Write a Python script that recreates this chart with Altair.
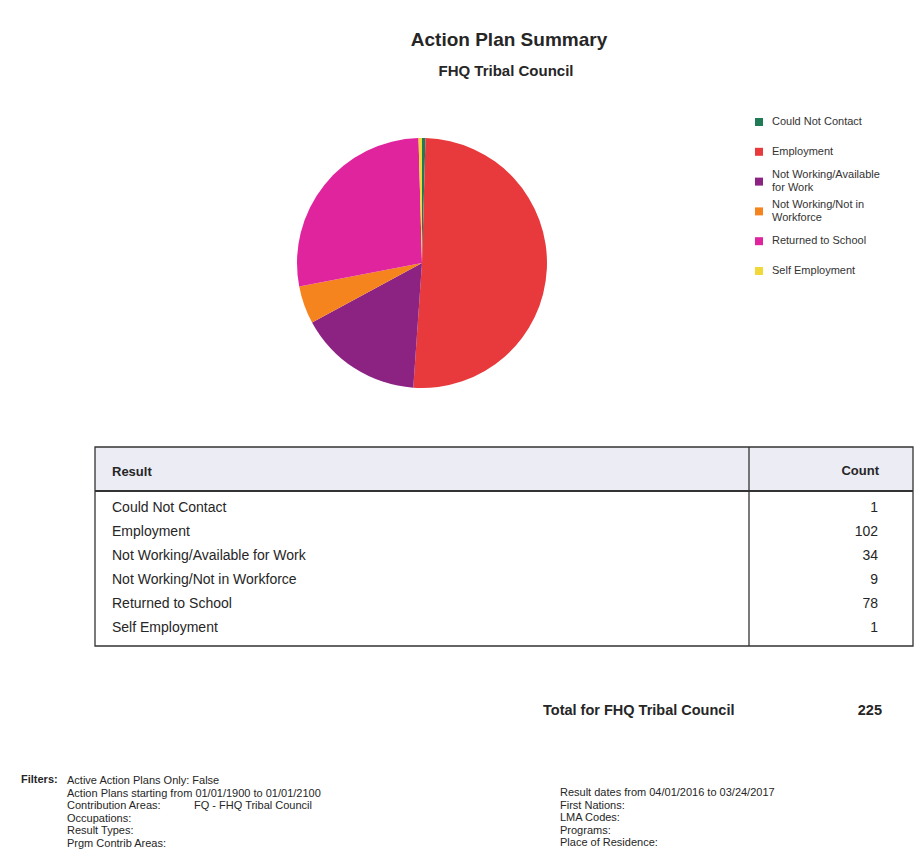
import altair as alt
import pandas as pd

# ---------------- data ----------------
results = [
    "Could Not Contact",
    "Employment",
    "Not Working/Available for Work",
    "Not Working/Not in Workforce",
    "Returned to School",
    "Self Employment",
]
# counts printed in the table
counts = [1, 102, 34, 9, 78, 1]
# slice sizes as drawn in the scanned pie
pie_counts = [1, 114, 36, 11, 62, 1]
colors = ["#1f7a55", "#e8393c", "#8c2383", "#f5841f", "#e0249e", "#f0d838"]

title_text = "Action Plan Summary"
subtitle_text = "FHQ Tribal Council"
header_result = "Result"
header_count = "Count"
total_label = "Total for FHQ Tribal Council"
filters_label = "Filters:"
filters_left = [
    "Active Action Plans Only: False",
    "Action Plans starting from 01/01/1900 to 01/01/2100",
    "Contribution Areas:",
    "Occupations:",
    "Result Types:",
    "Prgm Contrib Areas:",
]
contrib_value = "FQ - FHQ Tribal Council"
filters_right = [
    "Result dates from 04/01/2016 to 03/24/2017",
    "First Nations:",
    "LMA Codes:",
    "Programs:",
    "Place of Residence:",
]

df = pd.DataFrame({"Result": results, "Count": counts, "Slice": pie_counts})
one = pd.DataFrame({"k": [0]})

FONT = "Liberation Sans"
INK = "#262626"
LINE = "#333333"

color_scale = alt.Scale(domain=results, range=colors)

# ---------------- pie ----------------
pie = alt.Chart(df).mark_arc(outerRadius=125).encode(
    theta=alt.Theta("Slice:Q", stack=True),
    order=alt.Order("Result:N", sort="ascending"),
    color=alt.Color("Result:N", scale=color_scale, legend=None),
    x=alt.value(414),
    y=alt.value(255),
)

# ---------------- legend (built from the same data) ----------------
leg_y = alt.Y(
    "Result:N", sort=results,
    scale=alt.Scale(type="point", domain=results, range=[114, 263], padding=0),
    axis=None,
)
wrap_calc = dict(
    cut="length(datum.Result) > 22 ? lastindexof(substring(datum.Result, 0, 22), ' ') : -1",
)
line_calc = dict(
    line1="datum.cut > 0 ? substring(datum.Result, 0, datum.cut) : datum.Result",
    line2="datum.cut > 0 ? substring(datum.Result, datum.cut + 1) : ''",
)
leg_base = alt.Chart(df).transform_calculate(**wrap_calc).transform_calculate(**line_calc)

leg_sym = alt.Chart(df).mark_point(shape="square", filled=True, size=64, opacity=1).encode(
    x=alt.value(751), y=leg_y,
    color=alt.Color("Result:N", scale=color_scale, legend=None),
)
leg_style = dict(font=FONT, fontSize=11, color="#333333", align="left", baseline="middle")
leg_single = leg_base.transform_filter("datum.cut < 0").mark_text(**leg_style).encode(
    x=alt.value(764), y=leg_y, text="line1:N"
)
leg_l1 = leg_base.transform_filter("datum.cut > 0").mark_text(dy=-6.5, **leg_style).encode(
    x=alt.value(764), y=leg_y, text="line1:N"
)
leg_l2 = leg_base.transform_filter("datum.cut > 0").mark_text(dy=6.5, **leg_style).encode(
    x=alt.value(764), y=leg_y, text="line2:N"
)

# ---------------- titles ----------------
title = alt.Chart(one).mark_text(
    text=title_text, font=FONT, fontSize=19, fontWeight="bold", color=INK,
    align="center", baseline="middle",
).encode(x=alt.value(501), y=alt.value(32))

subtitle = alt.Chart(one).mark_text(
    text=subtitle_text, font=FONT, fontSize=15, fontWeight="bold", color=INK,
    align="center", baseline="middle",
).encode(x=alt.value(498), y=alt.value(63))

# ---------------- table ----------------
header_fill = alt.Chart(one).mark_rect(color="#ececf5").encode(
    x=alt.value(87), x2=alt.value(905), y=alt.value(439), y2=alt.value(483)
)
box = alt.Chart(one).mark_rect(fillOpacity=0, stroke=LINE, strokeWidth=1.3).encode(
    x=alt.value(87), x2=alt.value(905), y=alt.value(439), y2=alt.value(638)
)
header_line = alt.Chart(one).mark_rule(color=LINE, strokeWidth=2).encode(
    x=alt.value(87), x2=alt.value(905), y=alt.value(483)
)
divider = alt.Chart(one).mark_rule(color=LINE, strokeWidth=1.3).encode(
    x=alt.value(741), y=alt.value(439), y2=alt.value(638)
)
head_result = alt.Chart(one).mark_text(
    text=header_result, font=FONT, fontSize=13, fontWeight="bold", color=INK,
    align="left", baseline="middle",
).encode(x=alt.value(104), y=alt.value(464))
head_count = alt.Chart(one).mark_text(
    text=header_count, font=FONT, fontSize=13, fontWeight="bold", color=INK,
    align="right", baseline="middle",
).encode(x=alt.value(871), y=alt.value(463))

row_y = alt.Y(
    "Result:N", sort=results,
    scale=alt.Scale(type="point", domain=results, range=[500, 620], padding=0),
    axis=None,
)
rows_result = alt.Chart(df).mark_text(
    font=FONT, fontSize=14, color=INK, align="left", baseline="middle"
).encode(x=alt.value(104), y=row_y, text="Result:N")
rows_count = alt.Chart(df).mark_text(
    font=FONT, fontSize=14, color=INK, align="right", baseline="middle"
).encode(x=alt.value(870), y=row_y, text="Count:Q")

# ---------------- total ----------------
total_text = alt.Chart(one).mark_text(
    text=total_label, font=FONT, fontSize=14.5, fontWeight="bold", color=INK,
    align="left", baseline="middle",
).encode(x=alt.value(535), y=alt.value(703))
total_value = alt.Chart(df).transform_aggregate(
    total="sum(Count)"
).mark_text(
    font=FONT, fontSize=14.5, fontWeight="bold", color=INK,
    align="right", baseline="middle",
).encode(x=alt.value(874), y=alt.value(703), text="total:Q")

# ---------------- filters ----------------
f_label = alt.Chart(one).mark_text(
    text=filters_label, font=FONT, fontSize=11, fontWeight="bold", color=INK,
    align="left", baseline="middle",
).encode(x=alt.value(13), y=alt.value(772))
f_left = alt.Chart(one).mark_text(
    text=filters_left, font=FONT, fontSize=11, color=INK, lineHeight=12.6,
    align="left", baseline="top",
).encode(x=alt.value(59), y=alt.value(767))
f_contrib = alt.Chart(one).mark_text(
    text=contrib_value, font=FONT, fontSize=11, color=INK,
    align="left", baseline="middle",
).encode(x=alt.value(186), y=alt.value(798))
f_right = alt.Chart(one).mark_text(
    text=filters_right, font=FONT, fontSize=11, color=INK, lineHeight=12.6,
    align="left", baseline="top",
).encode(x=alt.value(552), y=alt.value(779))

chart = alt.layer(
    header_fill, box, header_line, divider,
    pie, leg_sym, leg_single, leg_l1, leg_l2,
    title, subtitle, head_result, head_count,
    rows_result, rows_count, total_text, total_value,
    f_label, f_left, f_contrib, f_right,
).resolve_scale(
    y="independent"
).properties(
    width=906,
    height=851,
    autosize=alt.AutoSizeParams(type="none"),
    padding=0,
    background="white",
).configure_view(stroke=None)

chart.save("out.html", embed_options={"renderer": "svg", "actions": False})
